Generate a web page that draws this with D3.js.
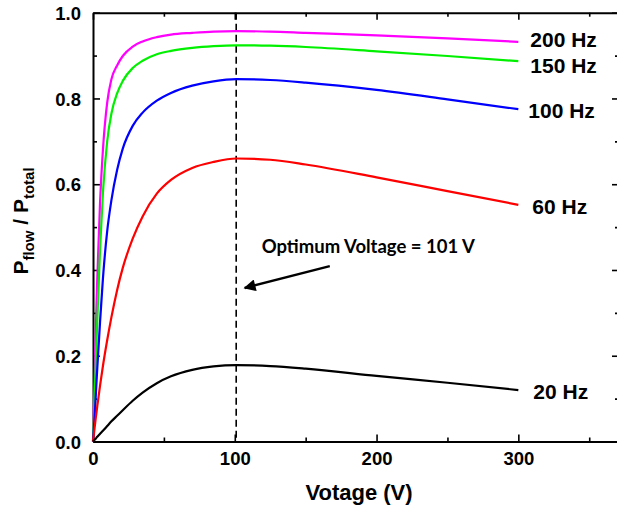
<!DOCTYPE html>
<html>
<head>
<meta charset="utf-8">
<script src="https://cdn.jsdelivr.net/npm/d3@7"></script>
<style>
  html, body { margin: 0; padding: 0; background: #fff; }
  svg { display: block; }
  text { font-family: "Liberation Sans", Arial, sans-serif; font-weight: bold; fill: #000; }
</style>
</head>
<body>
<svg id="chart" width="617" height="510"></svg>
<script>
// Applied voltage (V) at which each curve is sampled
const voltage = [0, 1, 2, 3, 5, 7, 10, 13, 17, 21, 28, 35, 45, 55, 70, 85, 101, 125, 150, 200, 250, 300];

// P_flow / P_total for each drive frequency
const ratio200Hz = [0, 0.12, 0.26, 0.38, 0.56, 0.68, 0.79, 0.845, 0.877, 0.899, 0.921, 0.933, 0.943, 0.949, 0.953, 0.956, 0.957, 0.956, 0.953, 0.947, 0.94, 0.932];
const ratio150Hz = [0, 0.09, 0.19, 0.28, 0.45, 0.58, 0.70, 0.765, 0.812, 0.841, 0.871, 0.888, 0.903, 0.911, 0.918, 0.922, 0.924, 0.923, 0.92, 0.91, 0.899, 0.887];
const ratio100Hz = [0, 0.05, 0.11, 0.17, 0.28, 0.38, 0.49, 0.563, 0.633, 0.683, 0.736, 0.767, 0.795, 0.813, 0.83, 0.84, 0.845, 0.843, 0.837, 0.82, 0.798, 0.775];
const ratio60Hz  = [0, 0.028, 0.056, 0.082, 0.131, 0.176, 0.236, 0.29, 0.353, 0.405, 0.473, 0.525, 0.578, 0.61, 0.638, 0.652, 0.66, 0.657, 0.646, 0.616, 0.584, 0.552];
const ratio20Hz  = [0, 0.0036, 0.0072, 0.011, 0.018, 0.025, 0.036, 0.047, 0.06, 0.073, 0.095, 0.114, 0.136, 0.152, 0.167, 0.175, 0.178, 0.176, 0.17, 0.153, 0.137, 0.12];

const seriesNames  = ["200 Hz", "150 Hz", "100 Hz", "60 Hz", "20 Hz"];
const seriesValues = [ratio200Hz, ratio150Hz, ratio100Hz, ratio60Hz, ratio20Hz];
const seriesColors = ["#ff00ff", "#00f000", "#0000ff", "#ff0000", "#000000"];

const yTickValues = [0, 0.2, 0.4, 0.6, 0.8, 1.0];
const xTickValues = [0, 100, 200, 300];
const optimumVoltage = 101;

const svg = d3.select("#chart");
const plotLeft = 93, plotRight = 619, plotTop = 12.7, plotBottom = 441.5;

const x = d3.scaleLinear().domain([0, 371]).range([plotLeft, plotRight]);
const y = d3.scaleLinear().domain([0, 1]).range([plotBottom, plotTop]);

// Frame: four axes with inward ticks
const minorY = [0.1, 0.3, 0.5, 0.7, 0.9];
const minorX = [50, 150, 250, 350];

function styleAxis(g) {
  g.select(".domain").attr("stroke", "#000").attr("stroke-width", 2);
  g.selectAll(".tick line").attr("stroke", "#000").attr("stroke-width", 1.6);
}

// left
svg.append("g").attr("transform", `translate(${plotLeft},0)`)
  .call(d3.axisLeft(y).tickValues(yTickValues).tickFormat(d3.format(".1f")).tickSizeInner(-7).tickSizeOuter(0).tickPadding(12))
  .call(styleAxis)
  .call(g => g.selectAll(".tick text").style("font-size", "18.5px").attr("font-family", null).attr("dy", "0.36em"));
svg.append("g").attr("transform", `translate(${plotLeft},0)`)
  .call(d3.axisLeft(y).tickValues(minorY).tickFormat("").tickSizeInner(-4).tickSizeOuter(0))
  .call(styleAxis).call(g => g.select(".domain").remove());

// right
svg.append("g").attr("transform", `translate(${plotRight},0)`)
  .call(d3.axisRight(y).tickValues(yTickValues).tickFormat("").tickSizeInner(-7).tickSizeOuter(0))
  .call(styleAxis);
svg.append("g").attr("transform", `translate(${plotRight},0)`)
  .call(d3.axisRight(y).tickValues(minorY).tickFormat("").tickSizeInner(-4).tickSizeOuter(0))
  .call(styleAxis).call(g => g.select(".domain").remove());

// bottom
svg.append("g").attr("transform", `translate(0,${plotBottom})`)
  .call(d3.axisBottom(x).tickValues(xTickValues).tickFormat(d3.format("d")).tickSizeInner(-7).tickSizeOuter(0).tickPadding(10))
  .call(styleAxis)
  .call(g => g.selectAll(".tick text").style("font-size", "18.5px").attr("font-family", null));
svg.append("g").attr("transform", `translate(0,${plotBottom})`)
  .call(d3.axisBottom(x).tickValues(minorX).tickFormat("").tickSizeInner(-4).tickSizeOuter(0))
  .call(styleAxis).call(g => g.select(".domain").remove());

// top
svg.append("g").attr("transform", `translate(0,${plotTop})`)
  .call(d3.axisTop(x).tickValues(xTickValues).tickFormat("").tickSizeInner(-7).tickSizeOuter(0))
  .call(styleAxis);
svg.append("g").attr("transform", `translate(0,${plotTop})`)
  .call(d3.axisTop(x).tickValues(minorX).tickFormat("").tickSizeInner(-4).tickSizeOuter(0))
  .call(styleAxis).call(g => g.select(".domain").remove());

// Optimum voltage marker
svg.append("line")
  .attr("x1", x(optimumVoltage)).attr("x2", x(optimumVoltage))
  .attr("y1", y(1)).attr("y2", y(0))
  .attr("stroke", "#000").attr("stroke-width", 1.6)
  .attr("stroke-dasharray", "7,4");

// Curves
const line = d3.line()
  .x((d, i) => x(voltage[i]))
  .y(d => y(d))
  .curve(d3.curveMonotoneX);

seriesValues.forEach((vals, k) => {
  svg.append("path")
    .datum(vals)
    .attr("fill", "none")
    .attr("stroke", seriesColors[k])
    .attr("stroke-width", 2.2)
    .attr("d", line);
});

// Series labels beside the line ends
const labelNudge = [[12, -2], [12, 4], [10, 1], [14, 2], [15, 1]];
seriesNames.forEach((name, k) => {
  const vals = seriesValues[k];
  svg.append("text")
    .attr("x", x(voltage[voltage.length - 1]) + labelNudge[k][0])
    .attr("y", y(vals[vals.length - 1]) + labelNudge[k][1])
    .attr("dy", "0.36em")
    .style("font-size", "21px")
    .text(name);
});

// Annotation with arrow
svg.append("defs").append("marker")
  .attr("id", "head")
  .attr("viewBox", "0 0 10 10")
  .attr("refX", 9).attr("refY", 5)
  .attr("markerWidth", 5.5).attr("markerHeight", 5)
  .attr("markerUnits", "strokeWidth")
  .attr("orient", "auto")
  .append("path").attr("d", "M0,0 L10,5 L0,10 z").attr("fill", "#000");

svg.append("line")
  .attr("x1", x(167)).attr("y1", y(0.409))
  .attr("x2", x(107)).attr("y2", y(0.358))
  .attr("stroke", "#000").attr("stroke-width", 2.4)
  .attr("marker-end", "url(#head)");

svg.append("text")
  .attr("x", x(119)).attr("y", y(0.455))
  .attr("dy", "0.35em")
  .style("font-family", "Lato, 'Open Sans', sans-serif")
  .style("font-size", "18.5px")
  .text("Optimum Voltage = " + optimumVoltage + " V");

// Axis titles
svg.append("text")
  .attr("x", 359).attr("y", 500)
  .attr("text-anchor", "middle")
  .style("font-size", "22px")
  .text("Votage (V)");

const yTitle = svg.append("text")
  .attr("transform", "translate(28,221) rotate(-90)")
  .attr("text-anchor", "middle")
  .style("font-size", "21px");
yTitle.append("tspan").text("P");
yTitle.append("tspan").attr("dy", 6).style("font-size", "15px").text("flow");
yTitle.append("tspan").attr("dy", -6).text(" / P");
yTitle.append("tspan").attr("dy", 6).style("font-size", "15px").text("total");
</script>
</body>
</html>
